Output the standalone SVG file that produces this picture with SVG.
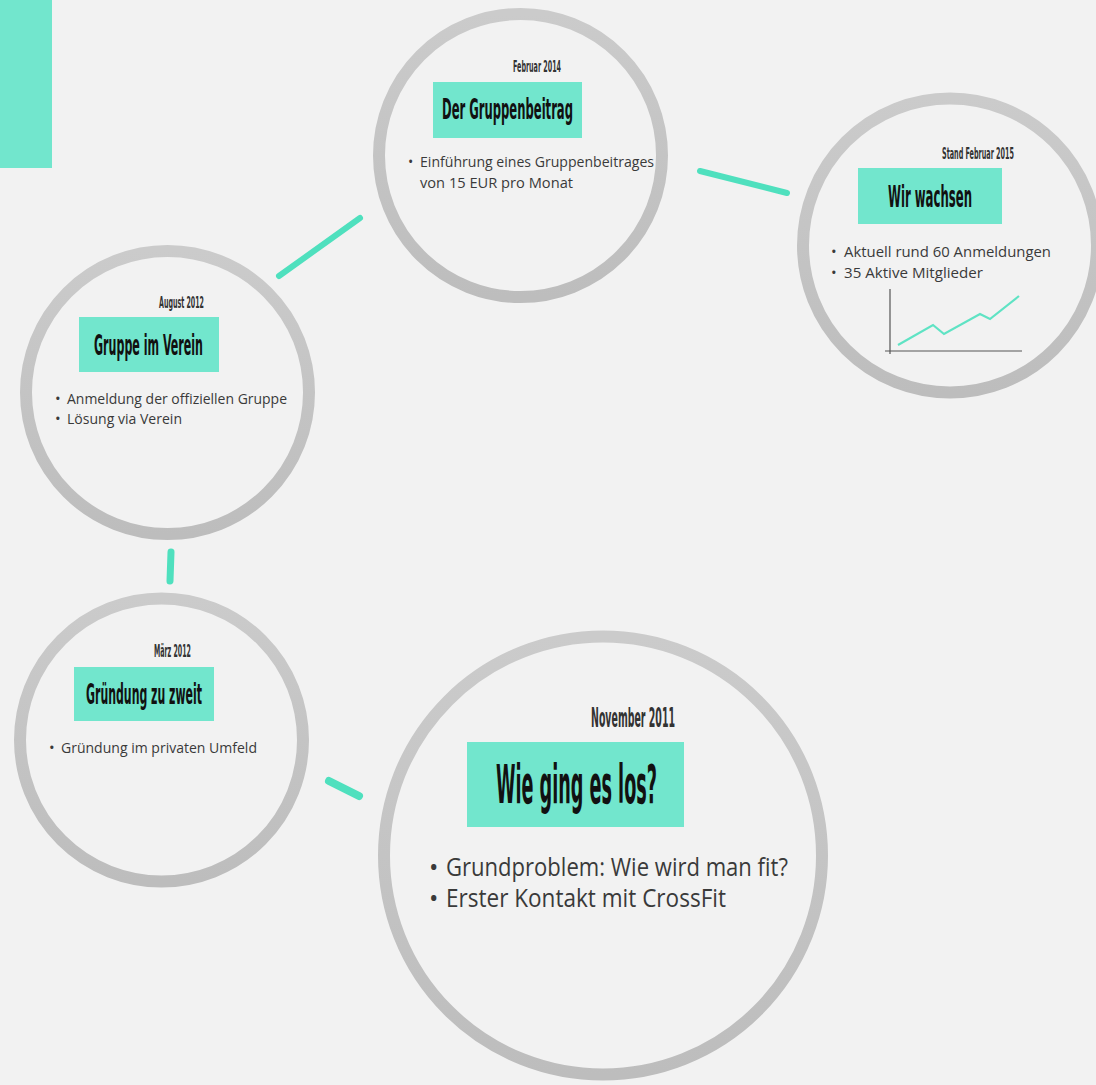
<svg xmlns="http://www.w3.org/2000/svg" width="1096" height="1085" viewBox="0 0 1096 1085">
<defs>
<linearGradient id="ring" x1="0" y1="0" x2="0" y2="1">
<stop offset="0" stop-color="#cbcbcb"/>
<stop offset="1" stop-color="#bdbdbd"/>
</linearGradient>
<style>
.ring{fill:#f2f2f2;stroke:url(#ring);stroke-width:12}
.box{fill:#72e6cd}
.date{font-family:"DejaVu Sans Condensed","DejaVu Sans",sans-serif;font-weight:bold;fill:#333333}
.title{font-family:"DejaVu Sans Condensed","DejaVu Sans",sans-serif;font-weight:bold;fill:#111111}
.body{font-family:"Open Sans","Noto Sans",sans-serif;fill:#3a3a3a}
.conn{stroke:#4fe0be;stroke-linecap:round;fill:none}
</style>
</defs>
<rect x="0" y="0" width="1096" height="1085" fill="#f2f2f2"/>
<rect x="0" y="0" width="52" height="168" class="box"/>

<g id="connectors">
<line class="conn" stroke-width="6" x1="279" y1="276" x2="360" y2="218"/>
<line class="conn" stroke-width="6" x1="700" y1="171" x2="787" y2="193"/>
<line class="conn" stroke-width="7" x1="171" y1="552" x2="170" y2="581"/>
<line class="conn" stroke-width="8" x1="329" y1="781" x2="359" y2="796"/>
</g>

<g id="node-feb2014">
<circle class="ring" cx="520.5" cy="155.5" r="141.5"/>
<text class="date" x="513" y="72" font-size="16" textLength="48" lengthAdjust="spacingAndGlyphs">Februar 2014</text>
<rect class="box" x="433" y="82" width="149" height="56"/>
<text class="title" x="442" y="119" font-size="29" textLength="131" lengthAdjust="spacingAndGlyphs">Der Gruppenbeitrag</text>
<text class="body" x="408" y="167" font-size="14">•</text>
<text class="body" x="420" y="167" font-size="14" textLength="234" lengthAdjust="spacingAndGlyphs">Einführung eines Gruppenbeitrages</text>
<text class="body" x="420" y="188" font-size="14" textLength="153" lengthAdjust="spacingAndGlyphs">von 15 EUR pro Monat</text>
</g>

<g id="node-feb2015">
<circle class="ring" cx="950" cy="245.5" r="147"/>
<text class="date" x="942" y="159" font-size="16" textLength="72" lengthAdjust="spacingAndGlyphs">Stand Februar 2015</text>
<rect class="box" x="858" y="168" width="144" height="56"/>
<text class="title" x="888" y="207" font-size="31" textLength="84" lengthAdjust="spacingAndGlyphs">Wir wachsen</text>
<text class="body" x="831" y="257" font-size="15">•</text>
<text class="body" x="844" y="257" font-size="15" textLength="207" lengthAdjust="spacingAndGlyphs">Aktuell rund 60 Anmeldungen</text>
<text class="body" x="831" y="278" font-size="15">•</text>
<text class="body" x="844" y="278" font-size="15" textLength="139" lengthAdjust="spacingAndGlyphs">35 Aktive Mitglieder</text>
<path d="M890 289 V354 M885 351 H1022" stroke="#555555" stroke-width="1.2" fill="none"/>
<polyline points="898,345 933,325 944,334 980,314 990,319 1019,296" stroke="#5fe3c4" stroke-width="2.2" fill="none"/>
</g>

<g id="node-aug2012">
<circle class="ring" cx="167.5" cy="392.5" r="141.5"/>
<text class="date" x="159" y="308" font-size="16" textLength="45" lengthAdjust="spacingAndGlyphs">August 2012</text>
<rect class="box" x="79" y="317" width="140" height="55"/>
<text class="title" x="94" y="355" font-size="29" textLength="109" lengthAdjust="spacingAndGlyphs">Gruppe im Verein</text>
<text class="body" x="55" y="404" font-size="15">•</text>
<text class="body" x="67" y="404" font-size="15" textLength="220" lengthAdjust="spacingAndGlyphs">Anmeldung der offiziellen Gruppe</text>
<text class="body" x="55" y="424" font-size="15">•</text>
<text class="body" x="67" y="424" font-size="15" textLength="115" lengthAdjust="spacingAndGlyphs">Lösung via Verein</text>
</g>

<g id="node-mar2012">
<circle class="ring" cx="161.5" cy="740" r="141.5"/>
<text class="date" x="154" y="657" font-size="17" textLength="37" lengthAdjust="spacingAndGlyphs">März 2012</text>
<rect class="box" x="74" y="667" width="140" height="54"/>
<text class="title" x="86" y="704" font-size="28" textLength="116" lengthAdjust="spacingAndGlyphs">Gründung zu zweit</text>
<text class="body" x="49" y="753" font-size="15">•</text>
<text class="body" x="61" y="753" font-size="15" textLength="196" lengthAdjust="spacingAndGlyphs">Gründung im privaten Umfeld</text>
</g>

<g id="node-nov2011">
<circle class="ring" cx="603" cy="855.5" r="219" stroke-width="19"/>
<text class="date" x="591" y="727" font-size="26" textLength="84" lengthAdjust="spacingAndGlyphs">November 2011</text>
<rect class="box" x="467" y="742" width="217" height="85"/>
<text class="title" x="496" y="803" font-size="53" textLength="161" lengthAdjust="spacingAndGlyphs">Wie ging es los?</text>
<text class="body" x="429" y="876" font-size="25">•</text>
<text class="body" x="446" y="876" font-size="25" textLength="342" lengthAdjust="spacingAndGlyphs">Grundproblem: Wie wird man fit?</text>
<text class="body" x="429" y="907" font-size="25">•</text>
<text class="body" x="446" y="907" font-size="25" textLength="280" lengthAdjust="spacingAndGlyphs">Erster Kontakt mit CrossFit</text>
</g>
</svg>
